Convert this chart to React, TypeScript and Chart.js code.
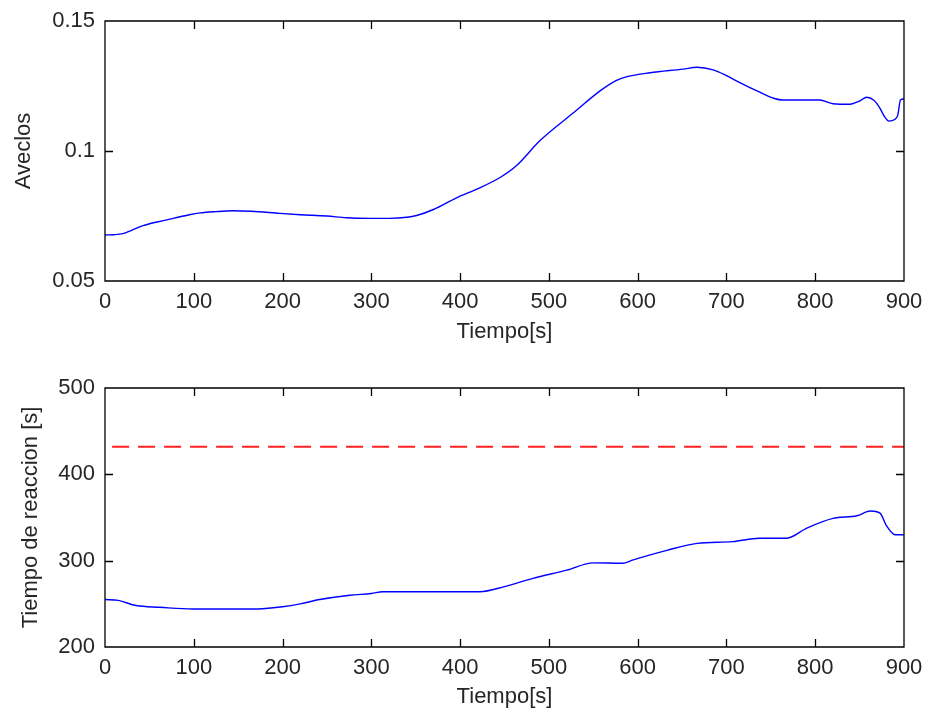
import React, { useEffect, useRef } from "react";
import { Chart, registerables } from "chart.js";

Chart.register(...registerables);

// ---- Data ----
const X_TICKS = [0, 100, 200, 300, 400, 500, 600, 700, 800, 900];
const TOP_Y_TICKS = [0.05, 0.1, 0.15];
const BOTTOM_Y_TICKS = [200, 300, 400, 500];

const aveclosTime = [0, 10, 20, 30, 43, 60, 77, 95, 107, 125, 144, 165, 197, 220, 250, 272, 300, 320, 340, 351, 370, 396, 420, 445, 464, 490, 527, 558, 575, 588, 614, 651, 667, 685, 700, 715, 735, 753, 764, 805, 820, 839, 850, 858, 866, 873, 877, 883, 889, 893, 896, 900];
const aveclosValues = [0.0677, 0.0678, 0.0682, 0.0695, 0.0713, 0.0728, 0.0741, 0.0755, 0.0762, 0.0767, 0.077, 0.0768, 0.076, 0.0755, 0.075, 0.0743, 0.0741, 0.0741, 0.0745, 0.0752, 0.0775, 0.082, 0.0855, 0.0898, 0.0945, 0.104, 0.1145, 0.1232, 0.127, 0.1286, 0.1301, 0.1315, 0.1322, 0.1312, 0.129, 0.1263, 0.123, 0.1203, 0.1196, 0.1196, 0.1182, 0.118, 0.1192, 0.1207, 0.1195, 0.1164, 0.1138, 0.1115, 0.112, 0.1138, 0.1196, 0.12];

const reaccionTime = [0, 15, 35, 62, 99, 130, 167, 200, 220, 242, 276, 300, 313, 422, 450, 482, 520, 550, 583, 595, 633, 667, 707, 737, 768, 790, 820, 847, 862, 873, 880, 890, 900];
const reaccionValues = [255, 254, 248, 246, 244, 244, 244, 246.7, 250, 255, 260, 262, 264, 264, 270, 279.5, 289, 297.5, 297, 301, 312, 320, 322, 326, 326, 337.5, 349, 352, 357.5, 355, 341, 330, 330];

const limitTime = [8, 900];
const limitValues = [432, 432];

// ---- Styling ----
const FONT = { family: "'Liberation Sans', Arial, sans-serif", size: 22 };
const TEXT = "#262626";

const toPoints = (xs: number[], ys: number[]) => xs.map((x, i) => ({ x, y: ys[i] }));

const boxPlugin = {
  id: "matlabBox",
  afterDatasetsDraw(chart: any) {
    const { ctx, chartArea } = chart;
    const { left, right, top, bottom } = chartArea;
    const xs = chart.scales.x;
    const ys = chart.scales.y;
    const L = 8;
    ctx.save();
    ctx.strokeStyle = "#000";
    ctx.lineWidth = 1.3;
    ctx.beginPath();
    ctx.rect(left, top, right - left, bottom - top);
    ctx.stroke();
    ctx.beginPath();
    xs.ticks.forEach((t: any) => {
      const px = Math.round(xs.getPixelForValue(t.value)) + 0.5;
      if (px <= left + 1 || px >= right - 1) return;
      ctx.moveTo(px, bottom);
      ctx.lineTo(px, bottom - L);
      ctx.moveTo(px, top);
      ctx.lineTo(px, top + L);
    });
    ys.ticks.forEach((t: any) => {
      const py = Math.round(ys.getPixelForValue(t.value)) + 0.5;
      if (py <= top + 1 || py >= bottom - 1) return;
      ctx.moveTo(left, py);
      ctx.lineTo(left + L, py);
      ctx.moveTo(right, py);
      ctx.lineTo(right - L, py);
    });
    ctx.stroke();
    ctx.restore();
  },
};

function makeOptions(cfg: {
  yMin: number;
  yMax: number;
  yTicks: number[];
  yTitle: string;
  yTitlePad: number;
  padTop: number;
  xHeight: number;
  xTitlePad: number;
  fmt: (v: number) => string;
}) {
  return {
    responsive: false,
    animation: false as const,
    layout: { padding: { top: cfg.padTop, right: 22, left: 0, bottom: 0 } },
    plugins: { legend: { display: false }, tooltip: { enabled: false } },
    scales: {
      x: {
        type: "linear" as const,
        min: 0,
        max: 900,
        afterBuildTicks: (s: any) => {
          s.ticks = X_TICKS.map((v) => ({ value: v }));
        },
        afterFit: (s: any) => {
          s.height = cfg.xHeight;
          s.paddingLeft = 0;
          s.paddingRight = 0;
        },
        grid: { display: false, drawTicks: false },
        border: { display: false },
        ticks: {
          autoSkip: false,
          maxRotation: 0,
          padding: 8,
          color: TEXT,
          font: FONT,
          callback: (v: any) => String(v),
        },
        title: {
          display: true,
          text: "Tiempo[s]",
          color: TEXT,
          font: FONT,
          padding: { top: 0, bottom: cfg.xTitlePad },
        },
      },
      y: {
        type: "linear" as const,
        min: cfg.yMin,
        max: cfg.yMax,
        afterBuildTicks: (s: any) => {
          s.ticks = cfg.yTicks.map((v) => ({ value: v }));
        },
        afterFit: (s: any) => {
          s.width = 105;
          s.paddingTop = 0;
          s.paddingBottom = 0;
        },
        grid: { display: false, drawTicks: false },
        border: { display: false },
        ticks: {
          autoSkip: false,
          padding: 10,
          color: TEXT,
          font: FONT,
          callback: (v: any) => cfg.fmt(Number(v)),
        },
        title: {
          display: true,
          text: cfg.yTitle,
          color: TEXT,
          font: FONT,
          padding: { top: cfg.yTitlePad, bottom: 0 },
        },
      },
    },
  };
}

export default function App() {
  const topRef = useRef<HTMLCanvasElement>(null);
  const botRef = useRef<HTMLCanvasElement>(null);

  useEffect(() => {
    const top = new Chart(topRef.current as HTMLCanvasElement, {
      type: "line",
      data: {
        datasets: [
          {
            data: toPoints(aveclosTime, aveclosValues),
            borderColor: "#0000ff",
            borderWidth: 1.4,
            pointRadius: 0,
            cubicInterpolationMode: "monotone",
            fill: false,
          },
        ],
      },
      options: makeOptions({
        yMin: 0.05,
        yMax: 0.15,
        yTicks: TOP_Y_TICKS,
        yTitle: "Aveclos",
        yTitlePad: 11,
        padTop: 21,
        xHeight: 75,
        xTitlePad: 11,
        fmt: (v) => String(Number(v.toFixed(2))),
      }) as any,
      plugins: [boxPlugin],
    });

    const bot = new Chart(botRef.current as HTMLCanvasElement, {
      type: "line",
      data: {
        datasets: [
          {
            data: toPoints(limitTime, limitValues),
            borderColor: "#ff2020",
            borderWidth: 2,
            borderDash: [17, 9],
            pointRadius: 0,
            fill: false,
          },
          {
            data: toPoints(reaccionTime, reaccionValues),
            borderColor: "#0000ff",
            borderWidth: 1.4,
            pointRadius: 0,
            cubicInterpolationMode: "monotone",
            fill: false,
          },
        ],
      },
      options: makeOptions({
        yMin: 200,
        yMax: 500,
        yTicks: BOTTOM_Y_TICKS,
        yTitle: "Tiempo de reaccion [s]",
        yTitlePad: 18,
        padTop: 32,
        xHeight: 66,
        xTitlePad: 3,
        fmt: (v) => String(v),
      }) as any,
      plugins: [boxPlugin],
    });

    return () => {
      top.destroy();
      bot.destroy();
    };
  }, []);

  return (
    <div style={{ position: "absolute", left: 0, top: 0, width: 926, height: 713, background: "#fff" }}>
      <canvas ref={topRef} width={926} height={356} style={{ position: "absolute", left: 0, top: 0 }} />
      <canvas ref={botRef} width={926} height={357} style={{ position: "absolute", left: 0, top: 356 }} />
    </div>
  );
}
